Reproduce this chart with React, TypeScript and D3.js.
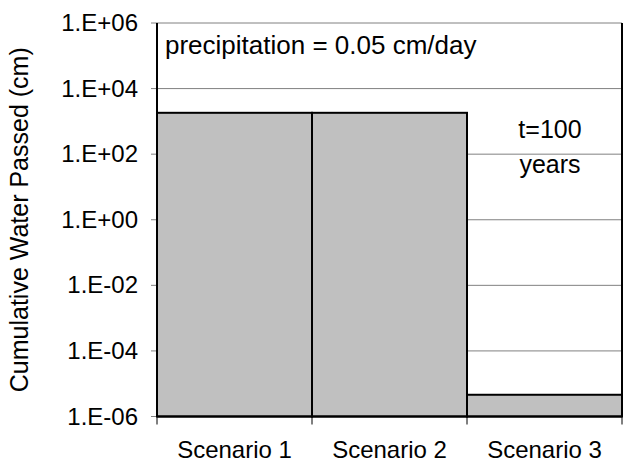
import React from "react";
import * as d3 from "d3";

const scenarios = ["Scenario 1", "Scenario 2", "Scenario 3"];
const waterPassed = [1825, 1825, 4.6e-6];
const tickValues = [1e-6, 1e-4, 1e-2, 1e0, 1e2, 1e4, 1e6];
const tickLabels = ["1.E-06", "1.E-04", "1.E-02", "1.E+00", "1.E+02", "1.E+04", "1.E+06"];

const W = 629;
const H = 476;
const margin = { left: 157, right: 7, top: 23, bottom: 59.5 };
const font = "'Liberation Sans', Arial, sans-serif";
const fs = 24;

export default function App() {
  const x = d3
    .scaleBand<string>()
    .domain(scenarios)
    .range([margin.left, W - margin.right])
    .padding(0);
  const y = d3
    .scaleLog()
    .domain([1e-6, 1e6])
    .range([H - margin.bottom, margin.top]);

  const x0 = margin.left;
  const x1 = W - margin.right;
  const yBottom = y(1e-6);
  const yTop = y(1e6);

  return (
    <svg
      width={W}
      height={H}
      style={{ position: "absolute", left: 0, top: 0, background: "#fff" }}
      fontFamily={font}
    >
      {/* decade gridlines with left ticks */}
      {tickValues.map((v, i) => (
        <g key={i}>
          <line x1={x0 - 6} x2={x1} y1={y(v)} y2={y(v)} stroke="#808080" strokeWidth={1} />
          <text x={x0 - 19} y={y(v) + 8} textAnchor="end" fontSize={fs} fill="#000">
            {tickLabels[i]}
          </text>
        </g>
      ))}

      {/* bars */}
      {scenarios.map((s, i) => (
        <rect
          key={s}
          x={x(s)!}
          y={y(waterPassed[i])}
          width={x.bandwidth()}
          height={yBottom - y(waterPassed[i])}
          fill="#c0c0c0"
          stroke="#000"
          strokeWidth={2}
        />
      ))}

      {/* axes frame */}
      <line x1={x0} x2={x0} y1={yTop} y2={yBottom} stroke="#000" strokeWidth={2} />
      <line x1={x1} x2={x1} y1={yTop} y2={yBottom} stroke="#000" strokeWidth={2} />
      <line x1={x0} x2={x1} y1={yBottom} y2={yBottom} stroke="#000" strokeWidth={2} />

      {/* category boundary ticks */}
      {[...scenarios.map((s) => x(s)!), x1].map((px, i) => (
        <line key={i} x1={px} x2={px} y1={yBottom} y2={yBottom + 8} stroke="#000" strokeWidth={1} />
      ))}

      {/* category labels */}
      {scenarios.map((s) => (
        <text
          key={s}
          x={x(s)! + x.bandwidth() / 2}
          y={yBottom + 41}
          textAnchor="middle"
          fontSize={fs}
          fill="#000"
        >
          {s}
        </text>
      ))}

      {/* y axis title */}
      <text
        transform={`translate(28, ${(yTop + yBottom) / 2}) rotate(-90)`}
        textAnchor="middle"
        fontSize={25}
        fill="#000"
      >
        Cumulative Water Passed (cm)
      </text>

      {/* annotations */}
      <text x={165} y={54} fontSize={26} fill="#000">
        precipitation = 0.05 cm/day
      </text>
      <text x={550} y={138} textAnchor="middle" fontSize={25} fill="#000">
        t=100
      </text>
      <text x={550} y={173} textAnchor="middle" fontSize={25} fill="#000">
        years
      </text>
    </svg>
  );
}
